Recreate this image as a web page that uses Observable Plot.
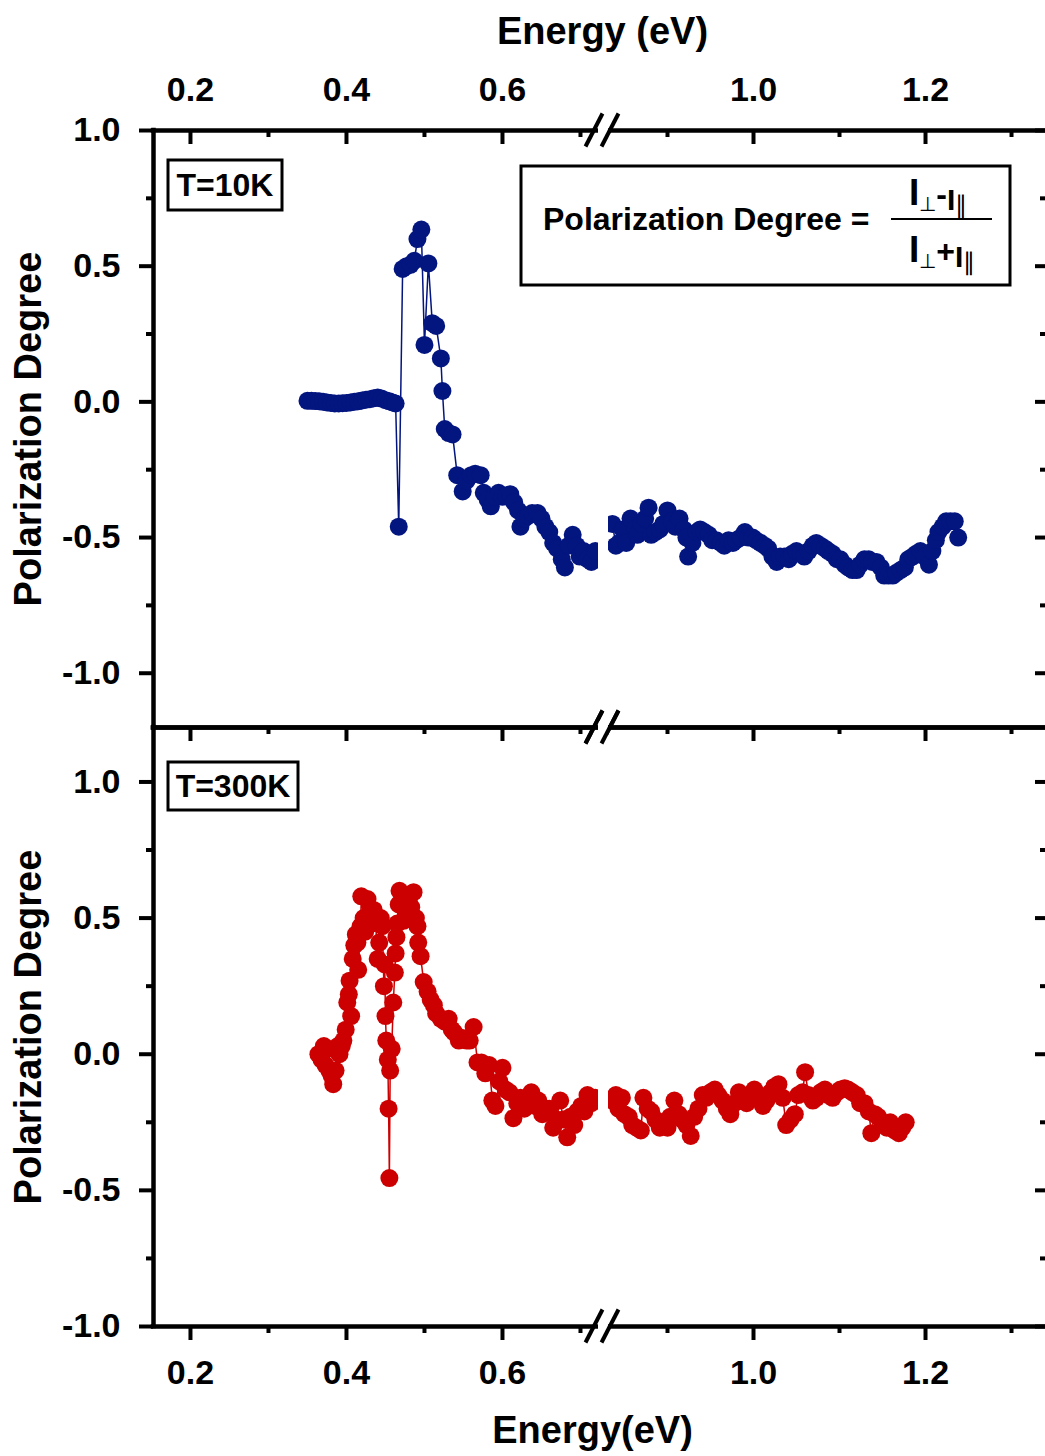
<!DOCTYPE html>
<html><head><meta charset="utf-8">
<script src="https://cdn.jsdelivr.net/npm/d3@7"></script>
<script src="https://cdn.jsdelivr.net/npm/@observablehq/plot@0.6"></script>
<style>
html,body{margin:0;padding:0;background:#fff;}
#chart{width:1045px;height:1456px;position:relative;overflow:hidden;background:#fff;}
#chart svg{display:block;overflow:visible;background:transparent !important;}
</style></head><body><div id="chart"></div>
<script>
const FONT = '"Liberation Sans", Arial, Helvetica, sans-serif';

// ---- T = 10 K (blue) ----
const energy10Low = [
0.350,0.355,0.360,0.365,0.370,0.375,0.380,0.385,0.390,0.395,
0.400,0.405,0.410,0.415,0.420,0.425,0.430,0.435,0.440,0.445,
0.450,0.455,0.459,0.463,0.467,0.472,0.477,0.482,0.487,0.491,
0.496,0.500,0.505,0.510,0.515,0.521,0.523,0.526,0.531,0.536,
0.542,0.549,0.554,0.560,0.565,0.572,0.576,0.581,0.585,0.590,
0.595,0.600,0.605,0.610,0.615,0.620,0.623,0.628,0.633,0.638,
0.645,0.650,0.655,0.660,0.665,0.670,0.676,0.680,0.685,0.690,
0.695,0.699,0.704,0.709,0.714,0.719];
const pol10Low = [
0.004,0.004,0.003,0.002,0.000,-0.002,-0.004,-0.006,-0.006,-0.005,
-0.004,-0.002,0.000,0.002,0.005,0.008,0.010,0.013,0.016,0.012,
0.006,0.002,-0.002,-0.006,-0.46,0.49,0.50,0.505,0.52,0.60,
0.635,0.21,0.51,0.29,0.28,0.16,0.04,-0.10,-0.115,-0.12,
-0.27,-0.33,-0.29,-0.27,-0.265,-0.27,-0.335,-0.36,-0.385,-0.35,
-0.335,-0.35,-0.345,-0.34,-0.37,-0.40,-0.46,-0.43,-0.42,-0.41,
-0.41,-0.43,-0.46,-0.48,-0.52,-0.54,-0.58,-0.61,-0.53,-0.49,
-0.53,-0.57,-0.55,-0.58,-0.59,-0.55];
const energy10High = [
0.836,0.840,0.844,0.848,0.852,0.857,0.862,0.865,0.870,0.874,
0.878,0.881,0.886,0.891,0.895,0.900,0.905,0.909,0.914,0.919,
0.922,0.924,0.929,0.934,0.938,0.943,0.948,0.952,0.957,0.962,
0.966,0.971,0.976,0.980,0.985,0.990,0.994,0.999,1.003,1.008,
1.013,1.017,1.022,1.027,1.031,1.036,1.041,1.045,1.050,1.055,
1.059,1.064,1.069,1.073,1.078,1.083,1.087,1.092,1.097,1.101,
1.106,1.110,1.115,1.120,1.124,1.129,1.134,1.138,1.143,1.148,
1.152,1.157,1.162,1.166,1.171,1.176,1.180,1.185,1.189,1.194,
1.199,1.204,1.208,1.212,1.215,1.220,1.224,1.229,1.234,1.238];
const pol10High = [
-0.45,-0.53,-0.52,-0.47,-0.52,-0.43,-0.47,-0.49,-0.45,-0.43,
-0.39,-0.49,-0.48,-0.47,-0.45,-0.40,-0.44,-0.46,-0.43,-0.47,
-0.50,-0.57,-0.52,-0.48,-0.47,-0.48,-0.49,-0.51,-0.51,-0.52,
-0.53,-0.51,-0.52,-0.51,-0.50,-0.48,-0.50,-0.50,-0.51,-0.52,
-0.53,-0.54,-0.57,-0.59,-0.57,-0.57,-0.58,-0.56,-0.55,-0.56,
-0.57,-0.55,-0.53,-0.52,-0.53,-0.54,-0.55,-0.56,-0.58,-0.58,
-0.60,-0.61,-0.62,-0.62,-0.60,-0.58,-0.58,-0.59,-0.59,-0.61,
-0.64,-0.64,-0.64,-0.63,-0.62,-0.61,-0.58,-0.57,-0.56,-0.55,
-0.57,-0.60,-0.55,-0.51,-0.48,-0.46,-0.44,-0.44,-0.44,-0.50];

// ---- T = 300 K (red) ----
const energy300Low = [
0.364,0.368,0.371,0.373,0.376,0.378,0.381,0.383,0.386,0.389,
0.391,0.394,0.396,0.399,0.401,0.403,0.404,0.406,0.408,0.410,
0.412,0.414,0.415,0.418,0.419,0.422,0.424,0.427,0.430,0.432,
0.435,0.437,0.440,0.442,0.444,0.446,0.448,0.449,0.450,0.451,
0.453,0.454,0.455,0.456,0.458,0.460,0.462,0.463,0.464,0.465,
0.467,0.468,0.471,0.473,0.476,0.478,0.481,0.483,0.486,0.489,
0.491,0.492,0.495,0.499,0.504,0.508,0.512,0.515,0.521,0.526,
0.531,0.535,0.538,0.544,0.549,0.554,0.558,0.563,0.568,0.573,
0.578,0.583,0.587,0.591,0.596,0.600,0.604,0.609,0.614,0.619,
0.623,0.628,0.633,0.637,0.642,0.646,0.651,0.656,0.660,0.665,
0.669,0.674,0.678,0.683,0.687,0.692,0.696,0.701,0.705,0.709,
0.714,0.719];
const pol300Low = [
0.00,-0.02,0.03,-0.04,0.02,-0.06,-0.08,-0.11,-0.06,0.03,
0.00,0.03,0.05,0.09,0.19,0.22,0.27,0.14,0.35,0.40,
0.44,0.41,0.31,0.47,0.58,0.50,0.45,0.57,0.52,0.48,
0.53,0.50,0.35,0.41,0.50,0.47,0.25,0.33,0.14,0.05,
-0.02,-0.20,-0.455,-0.06,0.02,0.19,0.30,0.37,0.43,0.48,
0.55,0.60,0.56,0.49,0.52,0.55,0.58,0.54,0.595,0.50,
0.47,0.41,0.36,0.265,0.23,0.20,0.18,0.15,0.13,0.12,
0.13,0.09,0.08,0.05,0.06,0.05,0.05,0.10,-0.03,-0.03,
-0.07,-0.04,-0.17,-0.19,-0.10,-0.05,-0.13,-0.14,-0.235,-0.18,
-0.16,-0.20,-0.16,-0.14,-0.19,-0.17,-0.22,-0.20,-0.20,-0.27,
-0.24,-0.17,-0.24,-0.305,-0.23,-0.26,-0.21,-0.19,-0.21,-0.15,
-0.18,-0.16];
const energy300High = [
0.836,0.840,0.843,0.847,0.850,0.855,0.859,0.864,0.869,0.872,
0.877,0.881,0.886,0.891,0.895,0.900,0.903,0.908,0.913,0.917,
0.922,0.927,0.931,0.936,0.941,0.945,0.950,0.955,0.959,0.964,
0.969,0.973,0.978,0.983,0.987,0.992,0.997,1.001,1.006,1.011,
1.015,1.020,1.024,1.029,1.034,1.038,1.043,1.048,1.052,1.057,
1.060,1.064,1.069,1.073,1.078,1.083,1.087,1.092,1.097,1.101,
1.106,1.110,1.115,1.120,1.124,1.129,1.134,1.137,1.141,1.145,
1.150,1.155,1.159,1.164,1.169,1.173,1.177];
const pol300High = [
-0.17,-0.15,-0.20,-0.16,-0.22,-0.23,-0.26,-0.27,-0.28,-0.16,
-0.20,-0.21,-0.24,-0.27,-0.25,-0.27,-0.23,-0.17,-0.22,-0.24,
-0.26,-0.30,-0.23,-0.20,-0.15,-0.16,-0.14,-0.13,-0.15,-0.17,
-0.20,-0.22,-0.18,-0.14,-0.16,-0.18,-0.16,-0.13,-0.15,-0.19,
-0.17,-0.14,-0.12,-0.11,-0.16,-0.26,-0.24,-0.22,-0.15,-0.14,
-0.066,-0.15,-0.17,-0.16,-0.14,-0.13,-0.15,-0.16,-0.14,-0.13,
-0.125,-0.13,-0.14,-0.15,-0.18,-0.18,-0.21,-0.29,-0.22,-0.23,
-0.25,-0.27,-0.25,-0.28,-0.29,-0.27,-0.25];

// ---- axes ----
const xMajor = [0.2, 0.4, 0.6, 1.0, 1.2];
const xMinor = [0.3, 0.5, 0.7, 0.9, 1.1, 1.3];
const yMajor = [-1.0, -0.5, 0.0, 0.5, 1.0];
const yMinor = [-0.75, -0.25, 0.25, 0.75];
const xDomain = [0.1526, 0.7231, 0.8314, 1.343];   // broken axis (piecewise)
const axisBreak = [{from: 0.7231, to: 0.8314}];

const panels = [
  {label: "T=10K", color: "#03157f", energy: energy10Low.concat(energy10High), pol: pol10Low.concat(pol10High), yDomain: [-1.2, 1.0], top: true},
  {label: "T=300K", color: "#cc0000", energy: energy300Low.concat(energy300High), pol: pol300Low.concat(pol300High), yDomain: [-1.0, 1.2], top: false}
];

const W = 1045, L = 153, SW = 4.5, FW = W - L;
const root = d3.select("#chart");

for (const p of panels) {
  const data = p.energy.map((e, i) => ({E: e, P: p.pol[i]}));
  const height = p.top ? 727 : 729;
  const marginTop = p.top ? 130 : 0;
  const marginBottom = p.top ? 0 : 130;
  const PH = height - marginTop - marginBottom;
  const [y0, y1] = p.yDomain;
  const txt = {fontFamily: FONT, fontWeight: "bold", fill: "black"};
  const tk = {stroke: "black", strokeWidth: 4};

  const marks = [
    Plot.line(data, {x: "E", y: "P", stroke: p.color, strokeWidth: 1.5}),
    Plot.dot(data, {x: "E", y: "P", r: 9, fill: p.color}),
    Plot.ruleY([y1], {stroke: "black", strokeWidth: SW, insetLeft: -SW / 2}),
    Plot.ruleY([y0], {stroke: "black", strokeWidth: SW, insetLeft: -SW / 2}),
    Plot.ruleX([xDomain[0]], {stroke: "black", strokeWidth: SW, insetTop: -SW / 2, insetBottom: -SW / 2}),
    // top axis ticks, inward
    Plot.tickX(xMajor, {x: d => d, insetBottom: PH - 14, ...tk}),
    Plot.tickX(xMinor, {x: d => d, insetBottom: PH - 7, ...tk}),
    // left ticks outward, right ticks inward
    Plot.tickY(yMajor, {y: d => d, insetLeft: -14, insetRight: FW, ...tk}),
    Plot.tickY(yMinor, {y: d => d, insetLeft: -7, insetRight: FW, ...tk}),
    Plot.tickY(yMajor, {y: d => d, insetLeft: FW - 10, insetRight: 0, ...tk}),
    Plot.tickY(yMinor, {y: d => d, insetLeft: FW - 5, insetRight: 0, ...tk}),
    // axis break gap
    Plot.rect(axisBreak, {x1: "from", x2: "to", y1: () => y0, y2: () => y1, fill: "white", insetTop: -6, insetBottom: -6}),
    // y tick labels
    Plot.text(yMajor, {y: d => d, text: d => d.toFixed(1), frameAnchor: "left", dx: -33, textAnchor: "end", lineAnchor: "middle", fontSize: 34, ...txt}),
    Plot.text(["Polarization Degree"], {text: d => d, frameAnchor: "left", dx: -125, rotate: -90, textAnchor: "middle", lineAnchor: "middle", fontSize: 38, ...txt})
  ];
  if (p.top) {
    marks.push(
      Plot.text(xMajor, {x: d => d, text: d => d.toFixed(1), frameAnchor: "top", dy: -40, lineAnchor: "middle", fontSize: 34, ...txt}),
      Plot.text(["Energy (eV)"], {text: d => d, frameAnchor: "top", dy: -99, dx: 3, lineAnchor: "middle", fontSize: 38, ...txt})
    );
  } else {
    marks.push(
      Plot.tickX(xMajor, {x: d => d, insetTop: PH, insetBottom: -14, ...tk}),
      Plot.tickX(xMinor, {x: d => d, insetTop: PH, insetBottom: -7, ...tk}),
      Plot.text(xMajor, {x: d => d, text: d => d.toFixed(1), frameAnchor: "bottom", dy: 47, lineAnchor: "middle", fontSize: 34, ...txt}),
      Plot.text(["Energy(eV)"], {text: d => d, frameAnchor: "bottom", dy: 104, dx: -7, lineAnchor: "middle", fontSize: 38, ...txt})
    );
  }

  const svg = Plot.plot({
    width: W, height, marginLeft: L, marginRight: 0, marginTop, marginBottom,
    style: {fontFamily: FONT, overflow: "visible", background: "transparent"},
    x: {type: "linear", domain: xDomain, range: [153, 598, 608, 1048], axis: null},
    y: {domain: p.yDomain, axis: null},
    marks
  });
  root.node().appendChild(svg);

  // break slashes on the horizontal axis lines
  const sx = svg.scale("x");
  const sy = svg.scale("y");
  const xa = sx.apply(axisBreak[0].from), xb = sx.apply(axisBreak[0].to);
  const s = d3.select(svg);
  const g = s.append("g");
  for (const yv of [y0, y1]) {
    const yl = sy.apply(yv);
    for (const cx of [xa - 4, xb + 2]) {
      g.append("line").attr("x1", cx - 8.5).attr("y1", yl + 16.5).attr("x2", cx + 8.5).attr("y2", yl - 16.5)
        .attr("stroke", "black").attr("stroke-width", 4);
    }
  }

  // temperature label box
  const bx = 168, by = p.top ? 160 : 35, bw = p.top ? 114 : 130, bh = p.top ? 50 : 48;
  s.append("rect").attr("x", bx).attr("y", by).attr("width", bw).attr("height", bh)
    .attr("fill", "white").attr("stroke", "black").attr("stroke-width", 3);
  s.append("text").attr("x", bx + bw / 2).attr("y", by + bh / 2).attr("dy", "0.35em")
    .attr("text-anchor", "middle").attr("font-family", FONT).attr("font-weight", "bold").attr("font-size", 32)
    .text(p.label);

  if (p.top) {
    // formula box
    s.append("rect").attr("x", 521).attr("y", 166).attr("width", 489).attr("height", 119)
      .attr("fill", "white").attr("stroke", "black").attr("stroke-width", 3);
    s.append("text").attr("x", 543).attr("y", 230).attr("text-anchor", "start").attr("font-family", FONT).attr("font-weight", "bold")
      .attr("font-size", 32).text("Polarization Degree =");
    s.append("line").attr("x1", 891).attr("x2", 992).attr("y1", 219).attr("y2", 219)
      .attr("stroke", "black").attr("stroke-width", 2);
    const frac = (y, op) => {
      const t = s.append("text").attr("x", 909).attr("y", y).attr("text-anchor", "start")
        .attr("font-family", FONT).attr("font-weight", "bold");
      t.append("tspan").attr("font-size", 37).text("I");
      t.append("tspan").attr("font-size", 20).attr("font-weight", "normal").attr("dy", 6).text("⊥");
      t.append("tspan").attr("font-size", 32).attr("dy", -6).text(op);
      t.append("tspan").attr("font-size", 30).attr("dy", 5).text("I");
      t.append("tspan").attr("font-size", 24).attr("font-weight", "normal").attr("dy", 3).text("∥");
    };
    frac(205, "-");
    frac(262, "+");
  }
}
</script></body></html>
